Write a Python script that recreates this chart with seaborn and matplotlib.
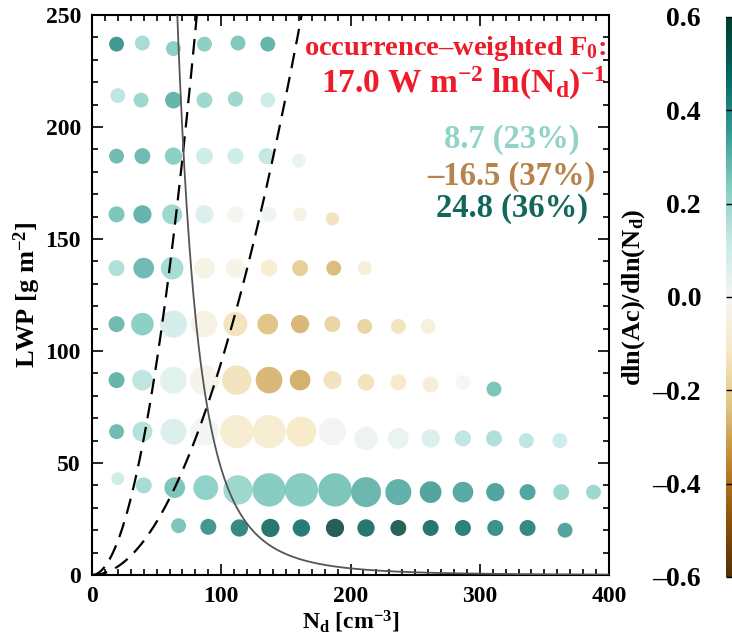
import numpy as np
import pandas as pd
import matplotlib
matplotlib.use("Agg")
import matplotlib.pyplot as plt
import matplotlib as mpl
import seaborn as sns

# ---- data: one entry per bubble, grouped by LWP row ----
nd = [19, 39, 63, 87, 113, 136,                                   # LWP ~237
      20, 38, 63, 87, 111, 136,                                   # ~212
      19, 39, 63, 87, 111, 135, 160,                              # ~187
      19, 39, 62, 87, 111, 137, 161, 186,                         # ~162
      19, 40, 62, 87, 111, 137, 161, 187, 211,                    # ~137
      19, 39, 63, 87, 111, 136, 161, 186, 211, 237, 260,          # ~112
      19, 39, 63, 87, 112, 137, 161, 186, 212, 237, 262, 287, 311,  # ~87
      19, 39, 63, 87, 112, 137, 162, 186, 212, 237, 262, 287, 311, 336, 362,  # ~62
      20, 40, 64, 88, 113, 137, 162, 188, 212, 237, 262, 287, 312, 337, 363, 388,  # ~37
      67, 90, 114, 138, 162, 188, 212, 237, 262, 287, 312, 337, 366]  # ~21

lwp = [237, 237.5, 235, 237, 237.5, 237,
       214, 212, 212, 212, 212.5, 212,
       187, 187, 187, 187, 187, 187, 185,
       161, 161, 161, 161, 161, 161, 161, 159,
       137, 137, 137, 137, 137, 137, 137, 137, 137,
       112, 112, 112, 112, 112, 112, 112, 112, 111, 111, 111,
       87, 87, 87, 87, 87, 87, 87, 87, 86, 86, 85, 86, 83,
       64, 64, 64, 64, 64, 64, 64, 64, 61, 61, 61, 61, 61, 60, 60,
       43, 40, 39, 39, 38, 38, 38, 38, 37, 37, 37, 37, 37, 37, 37, 37,
       22, 21.5, 21, 21, 21, 21, 21, 21, 21, 21, 21, 21, 20]

occurrence = [0.40, 0.40, 0.40, 0.40, 0.40, 0.40,
              0.40, 0.40, 0.50, 0.45, 0.42, 0.40,
              0.40, 0.46, 0.54, 0.50, 0.46, 0.46, 0.35,
              0.46, 0.60, 0.72, 0.60, 0.50, 0.40, 0.35, 0.32,
              0.46, 0.77, 0.92, 0.77, 0.67, 0.50, 0.46, 0.40, 0.35,
              0.46, 0.92, 1.34, 1.28, 1.04, 0.77, 0.60, 0.46, 0.40, 0.40, 0.40,
              0.46, 0.77, 1.28, 1.55, 1.55, 1.28, 0.77, 0.60, 0.50, 0.46, 0.46, 0.40, 0.40,
              0.40, 0.72, 1.22, 1.45, 2.00, 2.00, 1.62, 1.34, 0.98, 0.77, 0.60, 0.46, 0.46, 0.40, 0.40,
              0.29, 0.46, 0.77, 1.12, 1.55, 2.00, 2.00, 2.00, 1.62, 1.22, 0.85, 0.77, 0.60, 0.46, 0.46, 0.40,
              0.40, 0.46, 0.54, 0.60, 0.54, 0.60, 0.54, 0.46, 0.46, 0.46, 0.46, 0.46, 0.40]

slope = [0.40, 0.20, 0.25, 0.25, 0.27, 0.32,
         0.15, 0.22, 0.32, 0.22, 0.22, 0.12,
         0.30, 0.30, 0.25, 0.12, 0.12, 0.14, 0.03,
         0.28, 0.32, 0.22, 0.08, -0.02, 0.02, -0.05, -0.15,
         0.18, 0.30, 0.20, -0.05, -0.04, -0.10, -0.22, -0.27, -0.08,
         0.30, 0.25, 0.10, -0.05, -0.15, -0.25, -0.28, -0.20, -0.20, -0.15, -0.07,
         0.32, 0.15, 0.07, -0.03, -0.15, -0.28, -0.30, -0.15, -0.15, -0.12, -0.08, 0.00, 0.28,
         0.30, 0.17, 0.08, 0.01, -0.10, -0.10, -0.12, 0.01, 0.02, 0.04, 0.08, 0.15, 0.18, 0.15, 0.12,
         0.12, 0.20, 0.28, 0.24, 0.22, 0.26, 0.26, 0.28, 0.31, 0.33, 0.36, 0.35, 0.36, 0.36, 0.22, 0.22,
         0.28, 0.40, 0.44, 0.50, 0.48, 0.58, 0.50, 0.56, 0.50, 0.46, 0.42, 0.44, 0.36]

# guide curves: LWP = a * Nd^2 (dashed) and LWP = b * Nd^-4 (solid)
dash_coef = [0.038, 0.0095]
solid_coef = 4.74e9

f0_text = "17.0 W m$^{-2}$ ln(N$_\\mathrm{d}$)$^{-1}$"
regime_labels = ["8.7 (23%)", "\u201316.5 (37%)", "24.8 (36%)"]
regime_colors = ["#8fd3c9", "#b5834b", "#12665a"]

df = pd.DataFrame({"Nd": nd, "LWP": lwp, "occ": occurrence, "slope": slope})

plt.rcParams.update({
    "font.family": "Liberation Serif",
    "font.weight": "bold",
    "axes.labelweight": "bold",
    "mathtext.fontset": "custom",
    "mathtext.rm": "Liberation Serif:bold",
    "mathtext.it": "Liberation Serif:bold",
    "mathtext.bf": "Liberation Serif:bold",
    "mathtext.default": "rm",
})

fig = plt.figure(figsize=(7.32, 6.37), dpi=100)
ax = fig.add_axes([92 / 732, 62 / 637, 517 / 732, 560 / 637])

norm = mpl.colors.Normalize(-0.6, 0.6)
sns.scatterplot(data=df, x="Nd", y="LWP", hue="slope", size="occ",
                palette="BrBG", hue_norm=norm, sizes=(0, 576), size_norm=(0, 2.0),
                linewidth=0, alpha=0.85, legend=False, ax=ax, zorder=2)

xs = np.linspace(0, 400, 800)
for a in dash_coef:
    ax.plot(xs, a * xs ** 2, color="black", lw=1.6, dashes=(7, 4), zorder=3)
xs2 = np.linspace(40, 400, 800)
ax.plot(xs2, solid_coef * xs2 ** -4.0, color="#555555", lw=1.3, zorder=3)

ax.set_xlim(0, 400)
ax.set_ylim(0, 250)
ax.set_xticks([0, 100, 200, 300, 400])
ax.set_yticks([0, 50, 100, 150, 200, 250])
ax.xaxis.set_minor_locator(mpl.ticker.MultipleLocator(10))
ax.yaxis.set_minor_locator(mpl.ticker.MultipleLocator(10))
ax.tick_params(which="both", direction="in", top=True, right=True, width=1.2, labelsize=17)
ax.tick_params(which="major", length=8, pad=8)
ax.tick_params(which="minor", length=4)
for s in ax.spines.values():
    s.set_linewidth(1.5)
ax.set_xlabel("N$_\\mathrm{d}$ [cm$^{-3}$]", fontsize=17, labelpad=1)
ax.set_ylabel("LWP [g m$^{-2}$]", fontsize=19, labelpad=2)

ax.text(0.994, 0.929, "occurrence\u2013weighted F$_0$:", transform=ax.transAxes,
        ha="right", va="baseline", color="#ee1c2a", fontsize=20.5)
ax.text(0.994, 0.861, f0_text, transform=ax.transAxes,
        ha="right", va="baseline", color="#ee1c2a", fontsize=24)
for lab, col, yy in zip(regime_labels, regime_colors, [0.7625, 0.696, 0.639]):
    ax.text(0.812, yy, lab, transform=ax.transAxes, ha="center", va="baseline",
            color=col, fontsize=23.5)

cax = fig.add_axes([726 / 732, 60 / 637, 0.05, 560 / 637])
cb = fig.colorbar(mpl.cm.ScalarMappable(norm=norm, cmap="BrBG"), cax=cax)
cb.set_ticks([-0.6, -0.4, -0.2, 0.0, 0.2, 0.4, 0.6])
cb.ax.yaxis.set_ticks_position("left")
cb.ax.yaxis.set_label_position("left")
cb.ax.tick_params(direction="in", length=6, width=1, labelsize=20, pad=18)
cb.outline.set_visible(False)
cb.set_label("dln(Ac)/dln(N$_\\mathrm{d}$)", fontsize=19, labelpad=4)
cb.ax.yaxis.set_major_formatter(mpl.ticker.FuncFormatter(lambda v, p: f"{v:.1f}".replace("-", "\u2013")))

fig.savefig("out.png", dpi=100)
